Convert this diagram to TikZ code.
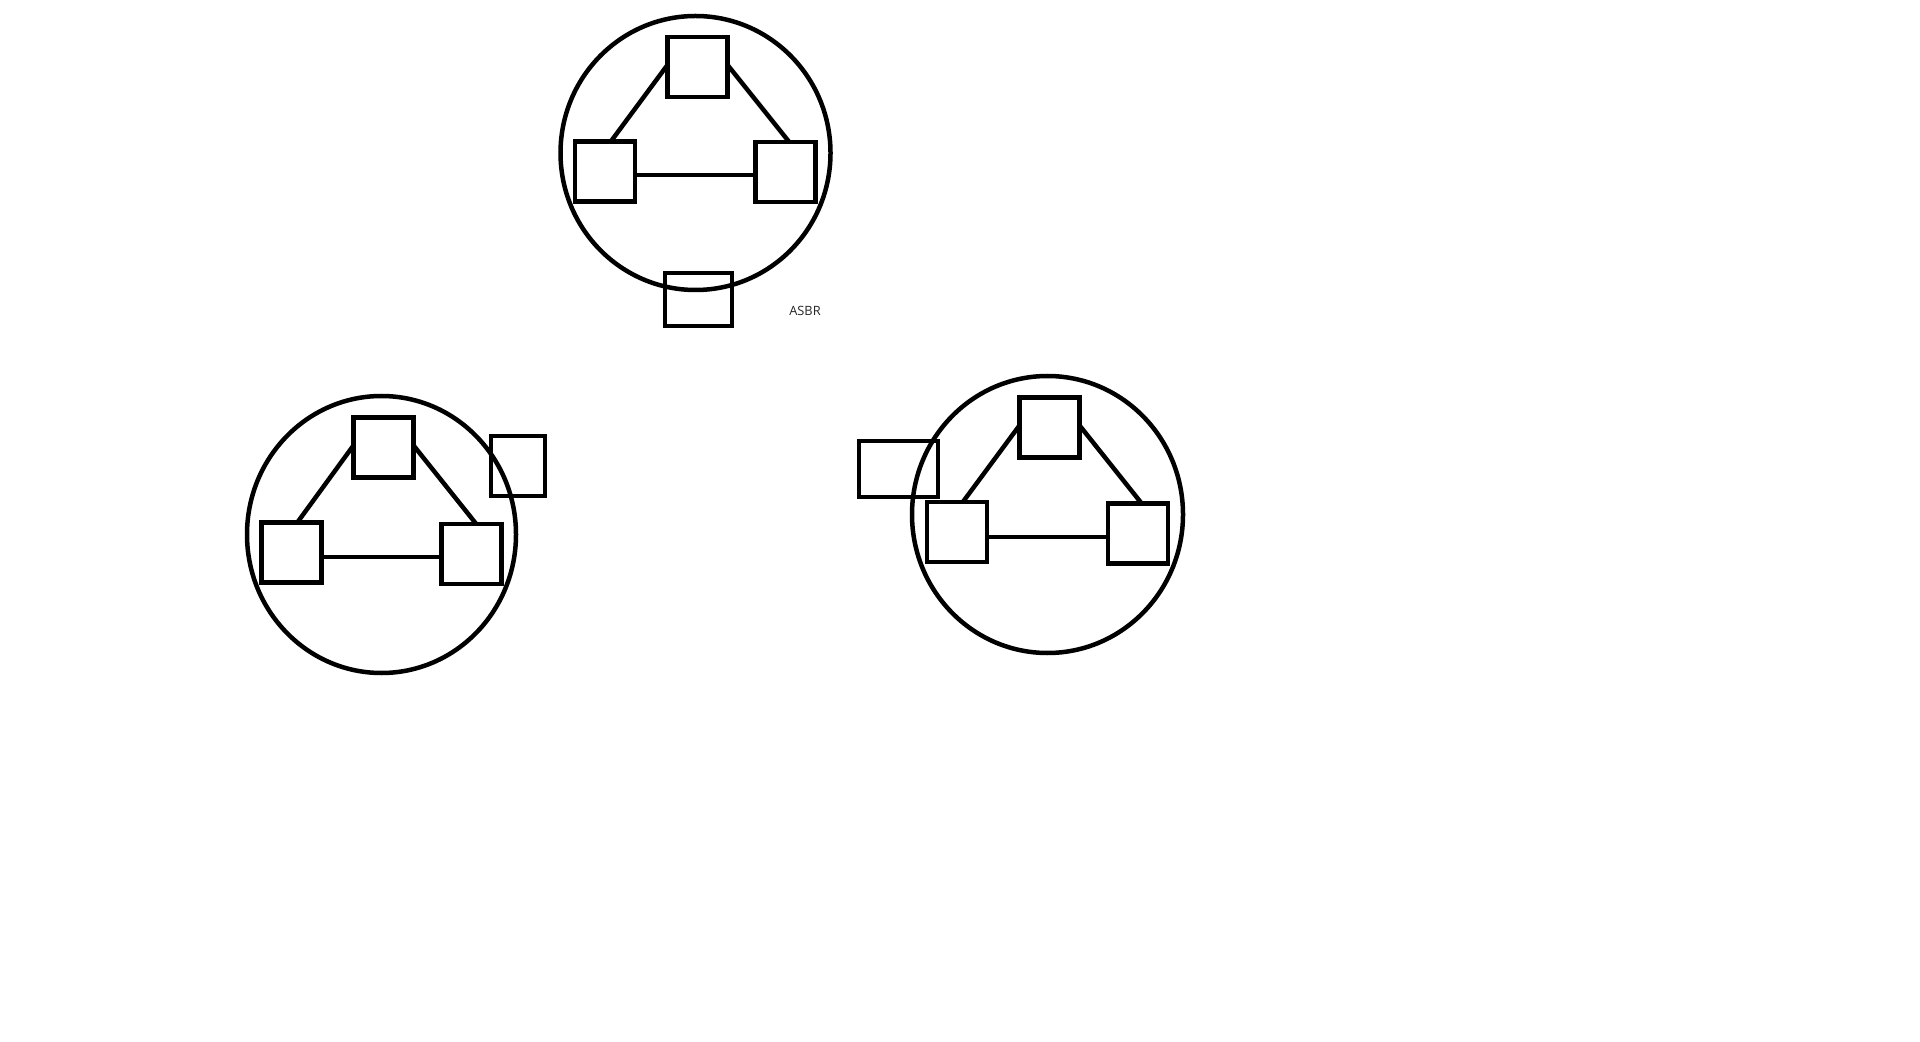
\documentclass[tikz,border=0pt]{standalone}
\usepackage{fontspec}
\setsansfont{Open Sans}
\begin{document}
\begin{tikzpicture}[x=0.5pt,y=-0.5pt,
  sq/.style={draw=black, line width=2.25pt, inner sep=0pt, outer sep=0pt, minimum width=30pt, minimum height=30pt},
  ln/.style={draw=black, line width=2.25pt},
  area/.style={draw=black, line width=2.25pt}]
\useasboundingbox[fill=white] (0,0) rectangle (1920,1042);
% group 1 (top)
\draw[area] (695.5,153) ellipse [x radius=135, y radius=137];
\node[sq] (T1) at (697.5,67) {};
\node[sq] (L1) at (605,171.5) {};
\node[sq] (R1) at (785.5,172) {};
\node[sq, minimum width=33.5pt, minimum height=26.5pt] (A1) at (698.5,299.5) {};
\node[font=\sffamily\fontsize{6.4}{7}\selectfont, text=black!85, inner sep=0pt] (asbr) at (805,311) {ASBR};
\draw[ln] (T1.176) -- (L1.79);
\draw[ln] (T1.4) -- (R1.83);
\draw[ln] ([yshift=-1.75pt]L1.east) -- ([yshift=-1.75pt]L1.east -| R1.west);
% group 2 (left)
\draw[area] (381.5,534.5) ellipse [x radius=134.5, y radius=138.5];
\node[sq] (T2) at (383.5,447.5) {};
\node[sq] (L2) at (291.5,552.5) {};
\node[sq] (R2) at (471.5,554) {};
\node[sq, minimum width=27pt, minimum height=30pt] (X2) at (518,466) {};
\draw[ln] (T2.176) -- (L2.79);
\draw[ln] (T2.4) -- (R2.81);
\draw[ln] ([yshift=-2.25pt]L2.east) -- ([yshift=-2.25pt]L2.east -| R2.west);
% group 3 (right)
\draw[area] (1047.5,514.5) ellipse [x radius=135.5, y radius=138.5];
\node[sq] (T3) at (1049.5,427.5) {};
\node[sq] (L3) at (957,532) {};
\node[sq] (R3) at (1138,533.5) {};
\node[sq, minimum width=39.5pt, minimum height=28pt] (X3) at (898.5,469) {};
\draw[ln] (T3.176) -- (L3.79);
\draw[ln] (T3.4) -- (R3.83);
\draw[ln] ([yshift=-2.5pt]L3.east) -- ([yshift=-2.5pt]L3.east -| R3.west);
\end{tikzpicture}
\end{document}
